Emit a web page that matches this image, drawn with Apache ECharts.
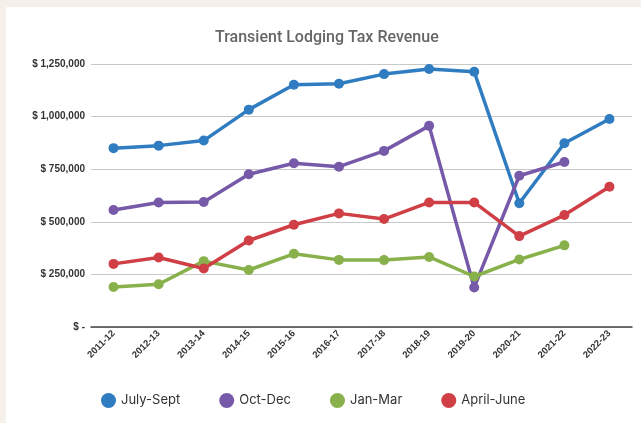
<!DOCTYPE html>
<html>
<head>
<meta charset="utf-8">
<script src="https://cdn.jsdelivr.net/npm/echarts@6/dist/echarts.min.js"></script>
<style>
  html, body { margin: 0; padding: 0; background: #f5f1ea; }
  #chart { position: absolute; left: 6px; top: 7px; width: 635px; height: 416px; background: #ffffff; }
</style>
</head>
<body>
<div id="chart"></div>
<script>
// fiscal years
var years = ['2011-12', '2012-13', '2013-14', '2014-15', '2015-16', '2016-17',
             '2017-18', '2018-19', '2019-20', '2020-21', '2021-22', '2022-23'];

// quarterly revenue
var julySept  = [850000, 862000, 886000, 1033000, 1151000, 1156000, 1202000, 1226000, 1213000, 588000, 873000, 989000];
var octDec    = [556000, 592000, 594000, 726000, 778000, 762000, 837000, 956000, 188000, 719000, 784000, null];
var janMar    = [190000, 203000, 313000, 271000, 348000, 319000, 318000, 333000, 240000, 321000, 388000, null];
var aprilJune = [300000, 330000, 278000, 411000, 486000, 540000, 513000, 592000, 592000, 432000, 532000, 667000];

var seriesNames = ['July-Sept', 'Oct-Dec', 'Jan-Mar', 'April-June'];
var colors = ['#2f7cc1', '#7659a8', '#88b04b', '#cf3f45'];

function fmtMoney(v) {
  if (v === 0) return '$ -';
  return '$ ' + v.toLocaleString('en-US');
}

function mkLine(name, data, color) {
  return {
    name: name,
    type: 'line',
    data: data,
    symbol: 'circle',
    symbolSize: 10,
    showSymbol: true,
    lineStyle: { width: 3.5, color: color },
    itemStyle: { color: color },
    emphasis: { disabled: true }
  };
}

var chart = echarts.init(document.getElementById('chart'));
chart.setOption({
  animation: false,
  backgroundColor: '#ffffff',
  title: {
    text: 'Transient Lodging Tax Revenue',
    left: 204,
    top: 18,
    textStyle: { fontFamily: 'Roboto', fontSize: 16, fontWeight: 500, color: '#666666' }
  },
  legend: {
    data: seriesNames,
    left: 95,
    top: 386,
    padding: 0,
    icon: 'circle',
    itemWidth: 15,
    itemHeight: 15,
    itemGap: 39,
    textStyle: { fontFamily: 'Inter', fontSize: 13, color: '#333333' }
  },
  grid: { left: 85, right: 9, top: 57, bottom: 96 },
  xAxis: {
    type: 'category',
    data: years,
    boundaryGap: true,
    axisTick: { show: false },
    axisLine: { lineStyle: { color: '#444444', width: 1.5 } },
    axisLabel: {
      rotate: 45,
      margin: 5,
      color: '#333333',
      fontFamily: 'Liberation Sans',
      fontWeight: 'bold',
      fontSize: 9.5
    }
  },
  yAxis: {
    type: 'value',
    min: 0,
    max: 1250000,
    interval: 250000,
    axisLine: { show: false },
    axisTick: { show: false },
    splitLine: { lineStyle: { color: '#c8c8c8', width: 1 } },
    axisLabel: {
      margin: 6,
      color: '#333333',
      fontFamily: 'Liberation Sans',
      fontWeight: 'bold',
      fontSize: 10,
      formatter: fmtMoney
    }
  },
  series: [
    mkLine(seriesNames[0], julySept, colors[0]),
    mkLine(seriesNames[1], octDec, colors[1]),
    mkLine(seriesNames[2], janMar, colors[2]),
    mkLine(seriesNames[3], aprilJune, colors[3])
  ]
});
</script>
</body>
</html>
